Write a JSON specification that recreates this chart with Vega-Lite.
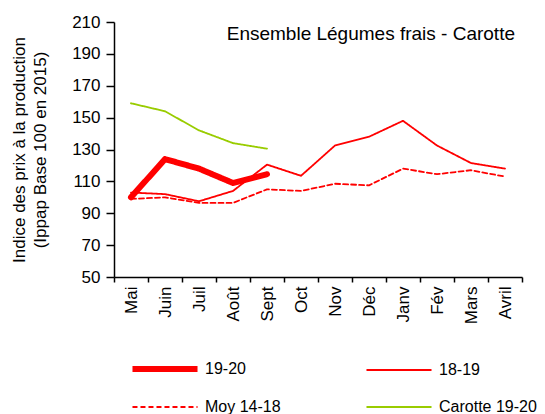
{
  "$schema": "https://vega.github.io/schema/vega-lite/v6.json",
  "width": 408,
  "height": 255,
  "padding": {"left": 10, "top": 13, "right": 5, "bottom": 5},
  "background": "white",
  "title": {"text": "Ensemble Légumes frais - Carotte", "frame": "group", "anchor": "end", "offset": -31, "dx": -7, "fontSize": 19, "fontWeight": "normal", "font": "Liberation Sans", "color": "black"},
  "data": {"values": [
    {"mois": "Mai", "serie": "19-20", "v": 100},
    {"mois": "Juin", "serie": "19-20", "v": 124},
    {"mois": "Juil", "serie": "19-20", "v": 118},
    {"mois": "Août", "serie": "19-20", "v": 109},
    {"mois": "Sept", "serie": "19-20", "v": 114.5},
    {"mois": "Mai", "serie": "18-19", "v": 103},
    {"mois": "Juin", "serie": "18-19", "v": 102},
    {"mois": "Juil", "serie": "18-19", "v": 97.5},
    {"mois": "Août", "serie": "18-19", "v": 104},
    {"mois": "Sept", "serie": "18-19", "v": 120.5},
    {"mois": "Oct", "serie": "18-19", "v": 113.5},
    {"mois": "Nov", "serie": "18-19", "v": 132.5},
    {"mois": "Déc", "serie": "18-19", "v": 138},
    {"mois": "Janv", "serie": "18-19", "v": 148},
    {"mois": "Fév", "serie": "18-19", "v": 132.5},
    {"mois": "Mars", "serie": "18-19", "v": 121.5},
    {"mois": "Avril", "serie": "18-19", "v": 118},
    {"mois": "Mai", "serie": "Moy 14-18", "v": 99},
    {"mois": "Juin", "serie": "Moy 14-18", "v": 100},
    {"mois": "Juil", "serie": "Moy 14-18", "v": 96.5},
    {"mois": "Août", "serie": "Moy 14-18", "v": 96.5},
    {"mois": "Sept", "serie": "Moy 14-18", "v": 105},
    {"mois": "Oct", "serie": "Moy 14-18", "v": 104},
    {"mois": "Nov", "serie": "Moy 14-18", "v": 108.5},
    {"mois": "Déc", "serie": "Moy 14-18", "v": 107.5},
    {"mois": "Janv", "serie": "Moy 14-18", "v": 118},
    {"mois": "Fév", "serie": "Moy 14-18", "v": 114.5},
    {"mois": "Mars", "serie": "Moy 14-18", "v": 117},
    {"mois": "Avril", "serie": "Moy 14-18", "v": 113},
    {"mois": "Mai", "serie": "Carotte 19-20", "v": 159},
    {"mois": "Juin", "serie": "Carotte 19-20", "v": 154},
    {"mois": "Juil", "serie": "Carotte 19-20", "v": 142},
    {"mois": "Août", "serie": "Carotte 19-20", "v": 134},
    {"mois": "Sept", "serie": "Carotte 19-20", "v": 130.5}
  ]},
  "mark": {"type": "line", "strokeJoin": "round"},
  "encoding": {
    "x": {
      "field": "mois", "type": "ordinal",
      "sort": ["Mai", "Juin", "Juil", "Août", "Sept", "Oct", "Nov", "Déc", "Janv", "Fév", "Mars", "Avril"],
      "scale": {"type": "band", "paddingInner": 0, "paddingOuter": 0},
      "axis": {"title": null, "labelAngle": -90, "labelFontSize": 17, "labelFont": "Liberation Sans", "labelColor": "black", "tickBand": "extent", "tickSize": 5, "tickColor": "black", "tickWidth": 1.5, "domainColor": "black", "domainWidth": 1.5, "labelPadding": 4, "grid": false}
    },
    "y": {
      "field": "v", "type": "quantitative",
      "scale": {"domain": [50, 210], "nice": false, "zero": false},
      "axis": {"title": ["Indice des prix à la production", "(Ippap Base 100 en 2015)"], "titleFontSize": 17, "titleFont": "Liberation Sans", "titleFontWeight": "normal", "titleColor": "black", "titleLineHeight": 21, "titlePadding": 22, "values": [50, 70, 90, 110, 130, 150, 170, 190, 210], "labelFontSize": 17, "labelFont": "Liberation Sans", "labelColor": "black", "labelPadding": 6, "tickSize": 8, "tickColor": "black", "tickWidth": 1.5, "domainColor": "black", "domainWidth": 1.5, "grid": false}
    },
    "color": {
      "field": "serie", "type": "nominal",
      "scale": {"domain": ["19-20", "Moy 14-18", "18-19", "Carotte 19-20"], "range": ["#ff0000", "#ff0000", "#ff0000", "#99cc00"]},
      "legend": {"title": null, "orient": "none", "legendX": 37, "legendY": 333, "columns": 2, "columnPadding": 81, "rowPadding": 14, "symbolType": "M-3,0H3", "symbolSize": 470, "labelFontSize": 16, "labelFont": "Liberation Sans", "labelColor": "black", "labelOffset": 26}
    },
    "strokeWidth": {
      "field": "serie", "type": "nominal",
      "scale": {"type": "ordinal", "domain": ["19-20", "Moy 14-18", "18-19", "Carotte 19-20"], "range": [6, 1.8, 1.8, 1.8]}
    },
    "strokeDash": {
      "field": "serie", "type": "nominal",
      "scale": {"domain": ["19-20", "Moy 14-18", "18-19", "Carotte 19-20"], "range": [[1, 0], [5, 3], [1, 0], [1, 0]]}
    }
  },
  "config": {"view": {"stroke": null}, "line": {"strokeCap": "round"}}
}
